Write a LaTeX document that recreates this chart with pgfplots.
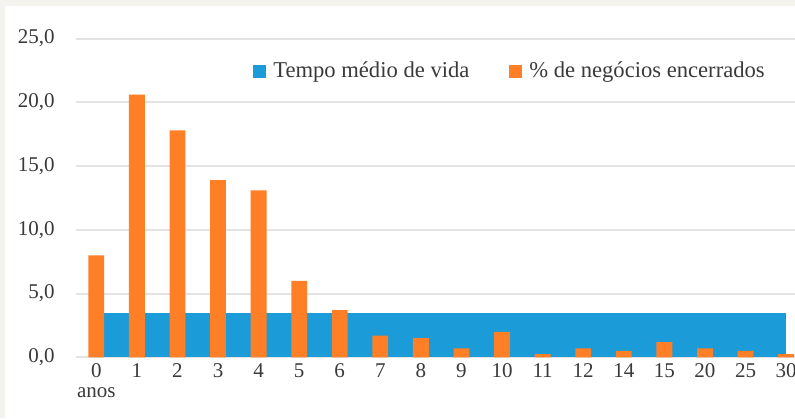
\documentclass[border=0pt]{standalone}
\usepackage{pgfplots}
\pgfplotsset{compat=1.18}
\usepackage{fontspec}
\setmainfont{Liberation Serif}
\definecolor{bgc}{HTML}{F4F3EE}
\definecolor{cblue}{HTML}{1B9BD7}
\definecolor{corange}{HTML}{FF7F27}
\definecolor{txt}{HTML}{3A3A3A}
\definecolor{gridc}{HTML}{E3E3E3}
\begin{document}
\begin{tikzpicture}
\fill[bgc] (0,0) rectangle (397.5pt,209pt);
\fill[white] (2.5pt,0) rectangle (397.5pt,206pt);
\begin{axis}[
  at={(38pt,30.35pt)}, anchor=south west,
  scale only axis, width=359.5pt, height=159.4pt,
  xmin=-0.5, xmax=17.22, ymin=0, ymax=25,
  ytick={0,5,...,25},
  xtick={0,...,17},
  xticklabels={{0\\anos},1,2,3,4,5,6,7,8,9,10,11,12,14,15,20,25,30},
  ymajorgrids, grid style={gridc, line width=1pt},
  axis line style={draw=none}, major tick length=0pt,
  yticklabel style={font=\fontsize{10.5}{12}\selectfont, text=txt, anchor=east, inner sep=0pt, xshift=-10.5pt,
    /pgf/number format/.cd, fixed, fixed zerofill, precision=1, use comma, assume math mode=true},
  xticklabel style={font=\fontsize{10.5}{10}\selectfont, text=txt, align=center, anchor=north, inner sep=0pt, yshift=-3pt},
  legend columns=2,
  legend style={at={(0.246,0.898)}, anchor=west, draw=none, fill=none, inner sep=0pt,
    font=\fontsize{11.3}{13}\selectfont, text=txt,
    nodes={inner sep=0pt},
    /tikz/every odd column/.append style={column sep=3.5pt},
    /tikz/every even column/.append style={column sep=20pt}},
  legend image code/.code={\fill[#1] (0pt,-3.25pt) rectangle (6.5pt,3.25pt);},
]
\addplot[fill=cblue, draw=none] coordinates {(0,3.45) (17,3.45)} \closedcycle;
\addlegendentry{Tempo médio de vida}
\addplot[ybar, bar width=0.39, fill=corange, draw=none] coordinates {
 (0,8.0) (1,20.6) (2,17.8) (3,13.9) (4,13.1) (5,6.0) (6,3.7) (7,1.7) (8,1.5)
 (9,0.7) (10,2.0) (11,0.25) (12,0.7) (13,0.5) (14,1.2) (15,0.7) (16,0.5) (17,0.25)};
\addlegendentry{\% de negócios encerrados}
\end{axis}
\pgfresetboundingbox
\path (0,0) rectangle (397.5pt,209pt);
\end{tikzpicture}
\end{document}
